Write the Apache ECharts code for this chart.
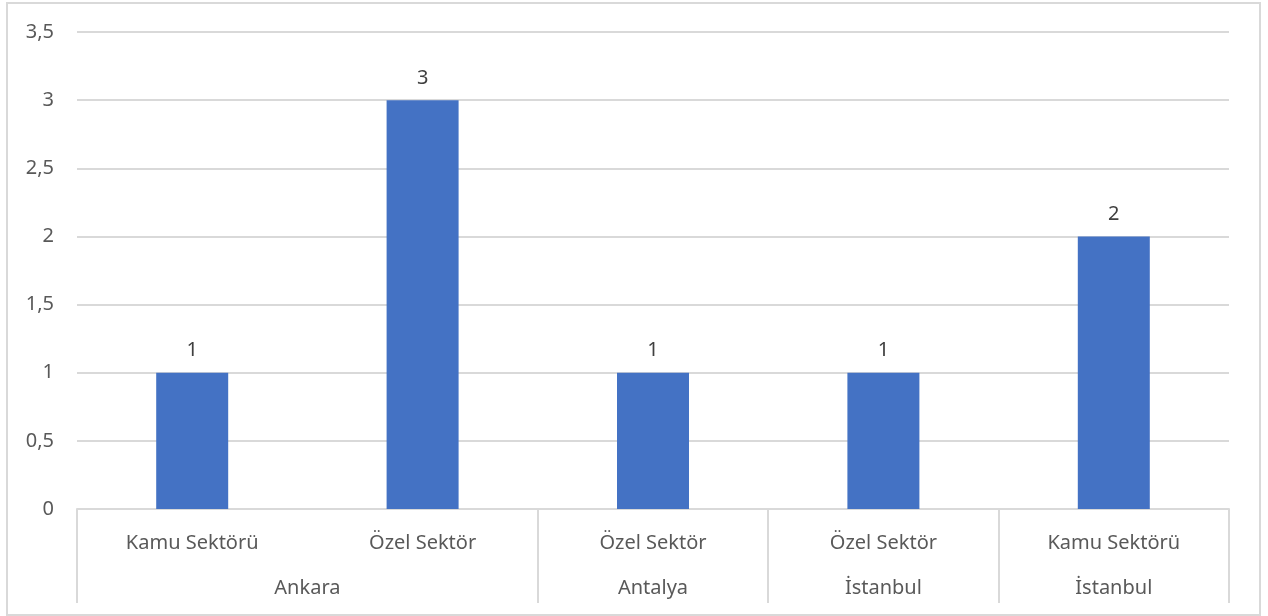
<!DOCTYPE html>
<html>
<head>
<meta charset="utf-8">
<script src="https://cdn.jsdelivr.net/npm/echarts@6/dist/echarts.min.js"></script>
<style>
  html, body { margin: 0; padding: 0; background: #fff; }
  #frame {
    position: absolute; left: 6px; top: 2px; width: 1251px; height: 610px;
    border: 2px solid #d9d9d9;
  }
  #chart { position: absolute; left: 0; top: 0; width: 1268px; height: 616px; }
</style>
</head>
<body>
<div id="frame"></div>
<div id="chart"></div>
<script>
// kategoriler (alt satır: sektör, üst satır: şehir grupları)
const sectors = ['Kamu Sektörü', 'Özel Sektör', 'Özel Sektör', 'Özel Sektör', 'Kamu Sektörü'];
const values = [1, 3, 1, 1, 2];
const groupNames = ['Ankara', 'Antalya', 'İstanbul', 'İstanbul'];
const groupSizes = [2, 1, 1, 1];

// grup sınırları ve ortaları
const groupEdges = [0];
groupSizes.forEach(s => groupEdges.push(groupEdges[groupEdges.length - 1] + s));
const groupCenters = groupSizes.map((s, i) => groupEdges[i] + s / 2);

const gray = '#d9d9d9';
const textColor = '#595959';
const font = '"Noto Sans", sans-serif';

const chart = echarts.init(document.getElementById('chart'));
chart.setOption({
  animation: false,
  grid: { left: 77, right: 39, top: 32, bottom: 107 },
  xAxis: [
    {
      type: 'category',
      data: sectors,
      axisLine: { lineStyle: { color: gray, width: 2 } },
      axisTick: { show: false },
      axisLabel: { color: textColor, fontSize: 20, fontFamily: font, margin: 24, interval: 0 }
    },
    {
      type: 'value',
      position: 'bottom',
      min: 0,
      max: sectors.length,
      axisLine: { show: false },
      splitLine: { show: false },
      axisTick: {
        show: true,
        customValues: groupEdges,
        length: 94,
        lineStyle: { color: gray, width: 2 }
      },
      axisLabel: {
        customValues: groupCenters,
        formatter: v => groupNames[groupCenters.indexOf(v)],
        color: textColor, fontSize: 20, fontFamily: font, margin: 69
      }
    }
  ],
  yAxis: {
    type: 'value',
    min: 0,
    max: 3.5,
    interval: 0.5,
    axisLine: { show: false },
    axisTick: { show: false },
    splitLine: { lineStyle: { color: gray, width: 2 } },
    axisLabel: {
      color: textColor, fontSize: 20, fontFamily: font, margin: 23,
      formatter: v => String(v).replace('.', ',')
    }
  },
  series: [{
    type: 'bar',
    xAxisIndex: 0,
    data: values,
    barWidth: 72,
    itemStyle: { color: '#4472C4' },
    label: {
      show: true, position: 'top', distance: 12,
      color: '#404040', fontSize: 20, fontFamily: font
    }
  }]
});
</script>
</body>
</html>
